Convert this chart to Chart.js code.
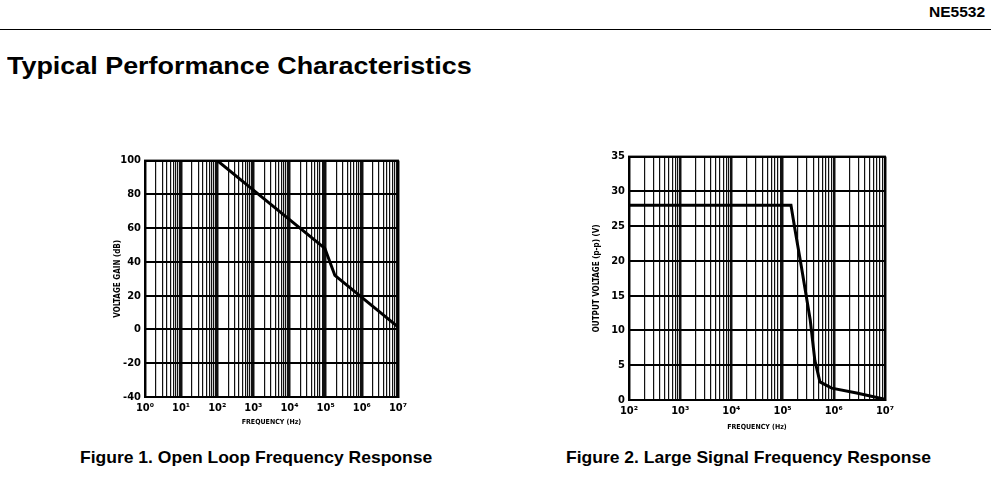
<!DOCTYPE html>
<html>
<head>
<meta charset="utf-8">
<script src="https://cdn.jsdelivr.net/npm/chart.js@4.4.1/dist/chart.umd.min.js"></script>
<style>
body { margin:0; background:#fff; width:991px; height:480px; overflow:hidden; position:relative;
       font-family:"Liberation Sans",Arial,sans-serif; color:#000; }
.txt { position:absolute; font-weight:bold; white-space:nowrap; transform-origin:0 0; }
#part { left:929px; top:4px; font-size:14px; transform:scaleX(1.11); }
#rule { position:absolute; left:0; right:0; top:29px; height:0; border-top:1.5px solid #000; }
#title { left:7px; top:53px; font-size:23px; transform:scaleX(1.17); }
.cap { top:448px; font-size:17px; transform:scaleX(1.03); }
.box { position:absolute; }
</style>
</head>
<body>
<div id="part" class="txt">NE5532</div>
<div id="rule"></div>
<div id="title" class="txt">Typical Performance Characteristics</div>
<div class="box" style="left:110px;top:150px;width:302px;height:287px"><canvas id="fig1"></canvas></div>
<div class="box" style="left:590px;top:146px;width:309px;height:294px"><canvas id="fig2"></canvas></div>
<div class="cap txt" style="left:80px">Figure 1. Open Loop Frequency Response</div>
<div class="cap txt" style="left:566px">Figure 2. Large Signal Frequency Response</div>
<script>
// figure 1 - open loop gain
var gainFreq = [1, 100, 1000, 10000, 95000, 180000, 1000000, 10000000];
var gainDb   = [100, 100, 82.5, 65, 48, 32, 19, 1.5];

// figure 2 - large signal output swing
var swingFreq = [100, 146000, 174000, 234000, 347000, 427000, 537000, 912000, 2800000, 10000000];
var swingVpp  = [28, 28, 24.6, 19.1, 11.5, 5.7, 2.6, 1.7, 1.0, 0.1];

var sup = ['⁰','¹','²','³','⁴','⁵','⁶','⁷'];
var font = "'DejaVu Sans Condensed','DejaVu Sans',sans-serif";

function logTicks(lo, hi){
    var t = [];
    for (var e = lo; e < hi; e++){
        for (var s = 1; s < 10; s++) t.push({value: s * Math.pow(10, e)});
    }
    t.push({value: Math.pow(10, hi)});
    return t;
}
function isDecade(v){
    var l = Math.log10(v);
    return Math.abs(l - Math.round(l)) < 1e-9;
}

function makeChart(id, xs, ys, lo, hi, ymin, ymax, ystep, ytitle, yw, ytpad, xtpad){
    var ctx = document.getElementById(id);
    return new Chart(ctx, {
        type: 'line',
        data: {
            datasets: [{
                data: xs.map(function(x, i){ return {x: x, y: ys[i]}; }),
                borderColor: '#000',
                borderWidth: 3,
                pointRadius: 0,
                tension: 0,
                fill: false
            }]
        },
        options: {
            responsive: true,
            maintainAspectRatio: false,
            animation: false,
            layout: { padding: {top: 10, right: 8, left: 0, bottom: 0} },
            plugins: { legend: {display: false}, tooltip: {enabled: false} },
            scales: {
                x: {
                    type: 'logarithmic',
                    min: Math.pow(10, lo),
                    max: Math.pow(10, hi),
                    afterBuildTicks: function(scale){ scale.ticks = logTicks(lo, hi); },
                    afterFit: function(scale){ scale.height = 40; },
                    border: { display: true, color: '#000', width: 2 },
                    grid: {
                        color: '#111',
                        lineWidth: function(c){ return isDecade(c.tick.value) ? 2.5 : 1.2; },
                        drawTicks: false
                    },
                    ticks: {
                        autoSkip: false,
                        maxRotation: 0,
                        padding: 5,
                        color: '#000',
                        font: {family: font, size: 11, weight: 'bold'},
                        callback: function(v){
                            return isDecade(v) ? '10' + sup[Math.round(Math.log10(v))] : '';
                        }
                    },
                    title: {
                        display: true,
                        text: 'FREQUENCY (Hz)',
                        color: '#000',
                        font: {family: font, size: 7, weight: 'bold'},
                        padding: {top: 0, bottom: xtpad}
                    }
                },
                y: {
                    min: ymin,
                    max: ymax,
                    afterFit: function(scale){ scale.width = yw; },
                    border: { display: true, color: '#000', width: 2 },
                    grid: { color: '#000', lineWidth: 2, drawTicks: false },
                    ticks: {
                        stepSize: ystep,
                        padding: 4,
                        color: '#000',
                        font: {family: font, size: 11, weight: 'bold'}
                    },
                    title: {
                        display: true,
                        text: ytitle,
                        color: '#000',
                        font: {family: font, size: 8, weight: 'bold'},
                        padding: {top: ytpad, bottom: 0}
                    }
                }
            }
        },
        plugins: [{
            id: 'frame',
            afterDraw: function(chart){
                var a = chart.chartArea, c = chart.ctx;
                c.save();
                c.strokeStyle = '#000';
                c.lineWidth = 2;
                c.strokeRect(a.left, a.top, a.right - a.left, a.bottom - a.top);
                c.restore();
            }
        }]
    });
}

makeChart('fig1', gainFreq, gainDb, 0, 7, -40, 100, 20, 'VOLTAGE GAIN (dB)', 35, 3, 11);
makeChart('fig2', swingFreq, swingVpp, 2, 7, 0, 35, 5, 'OUTPUT VOLTAGE (p-p) (V)', 39, 2, 9);
</script>
</body>
</html>
